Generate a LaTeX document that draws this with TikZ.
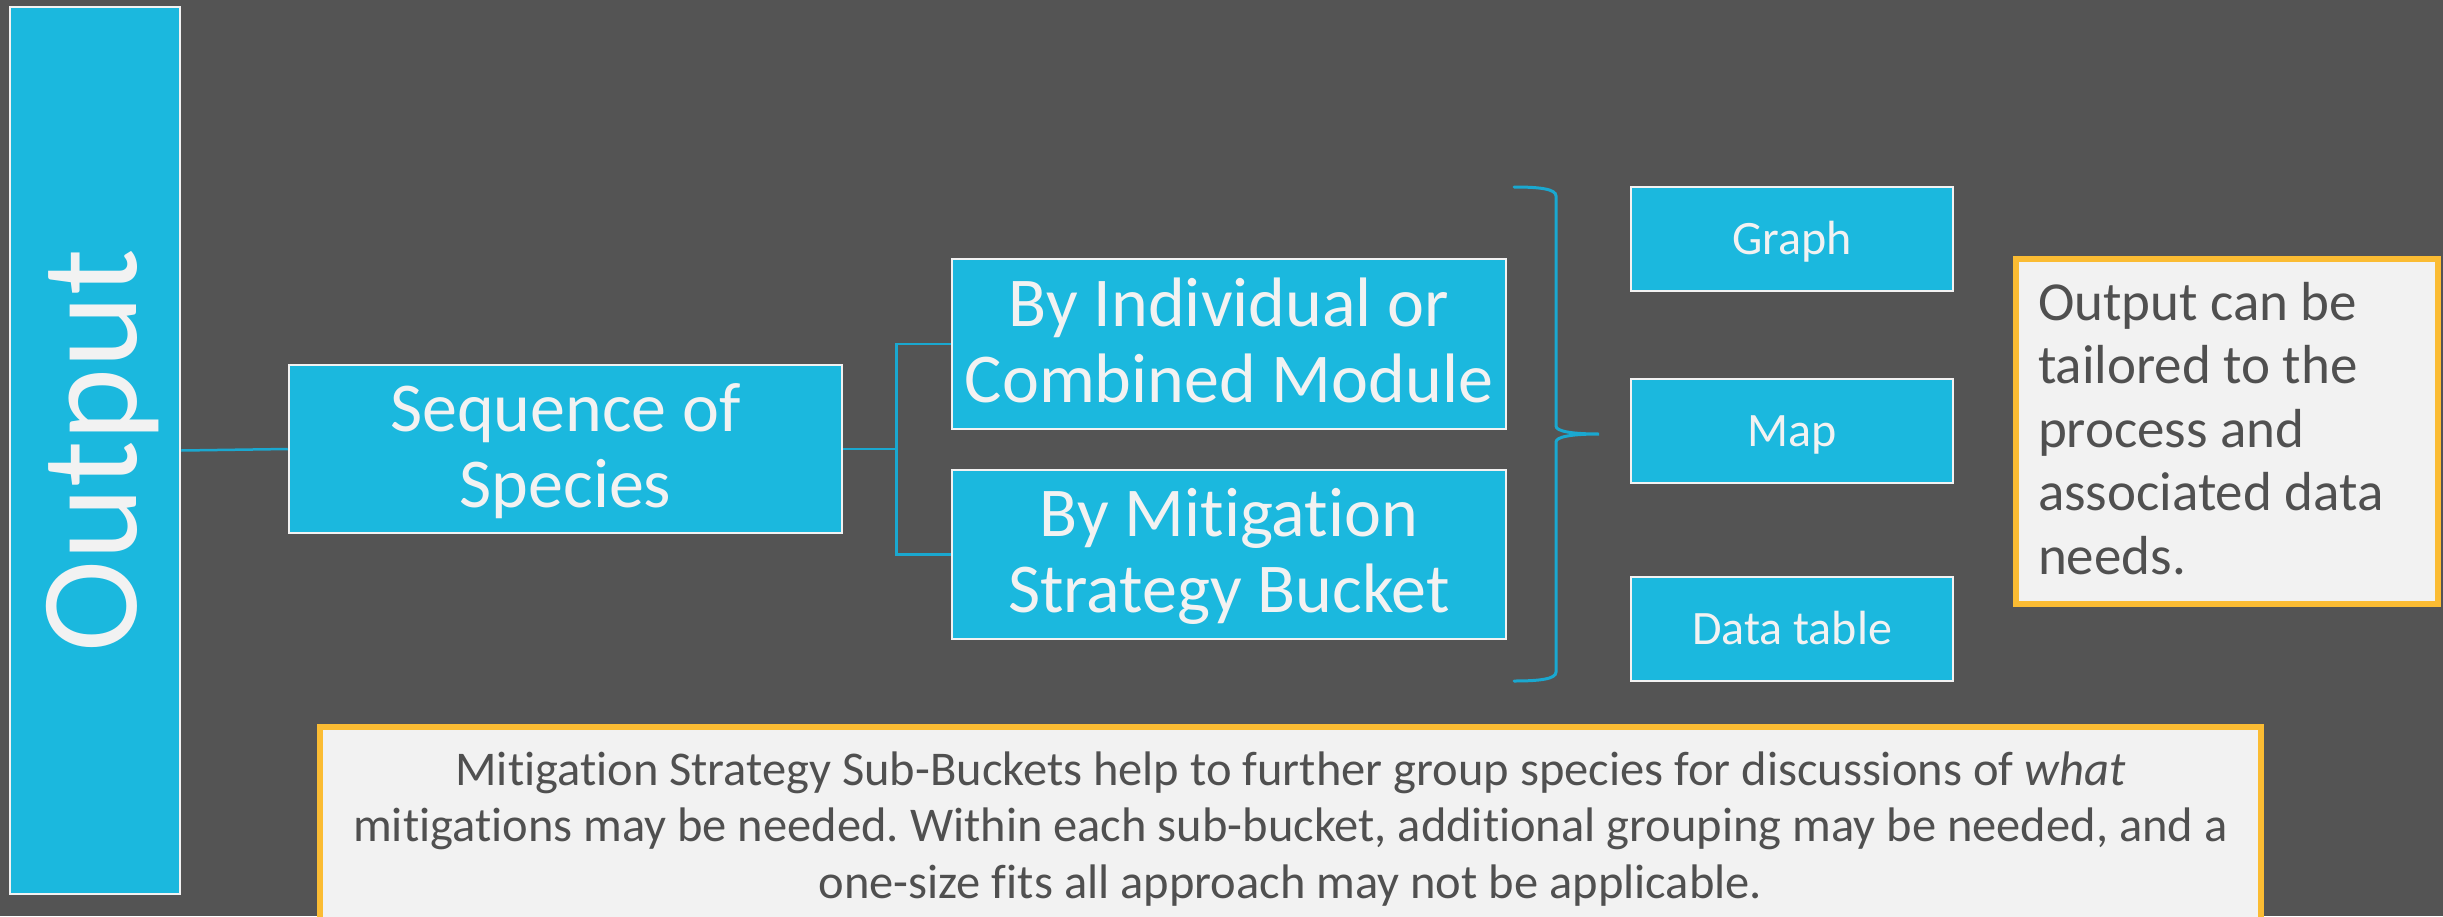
\documentclass[tikz,border=0pt]{standalone}
\usepackage{fontspec}
\setmainfont{Carlito}[Ligatures=NoCommon]
\frenchspacing
\definecolor{bg}{HTML}{545454}
\definecolor{cyanbox}{HTML}{1BB8DE}
\definecolor{lineblue}{HTML}{1AA8D0}
\definecolor{whiteish}{HTML}{F2F2F2}
\definecolor{orangeb}{HTML}{FBBC33}
\definecolor{darktext}{HTML}{505050}
\newcommand\bigstrut{\rule[-18pt]{0pt}{76pt}}
\newcommand\smallstrut{\rule[-12pt]{0pt}{55pt}}
\newcommand\notestrut{\rule[-16.25pt]{0pt}{63.5pt}}
\newcommand\botstrut{\rule[-14.5pt]{0pt}{56.5pt}}
\begin{document}
\begin{tikzpicture}[x=1pt,y=-1pt,
  bluebox/.style={draw=whiteish, fill=cyanbox, line width=2.5pt, text=whiteish, inner sep=0pt, align=center},
  bigtext/.style={font=\fontsize{70}{76}\selectfont},
  smalltext/.style={font=\fontsize{48}{55}\selectfont},
  notebox/.style={draw=orangeb, fill=whiteish, line width=6pt, text=darktext},
  conn/.style={draw=lineblue, line width=2.5pt},
  bracestyle/.style={draw=lineblue, line width=3pt, line cap=round}
]
\clip (0,0) rectangle (2443,916);
\fill[bg] (0,0) rectangle (2443,916);

% left vertical box
\node[bluebox, rotate=90, minimum width=887pt, minimum height=170pt,
      font=\fontsize{139}{140}\selectfont] (out) at (95,450.5) {\rule[-28pt]{0pt}{138pt}Output};

% sequence of species
\node[bluebox, bigtext, minimum width=553pt, minimum height=168pt] (seq) at (565.5,449)
  {\bigstrut Sequence of\\\bigstrut Species};

% two middle boxes
\node[bluebox, bigtext, minimum width=554pt, minimum height=170pt] (ind) at (1229,344)
  {\bigstrut By Individual or\\\bigstrut Combined Module};
\node[bluebox, bigtext, minimum width=554pt, minimum height=169pt] (mit) at (1229,554.5)
  {\bigstrut By Mitigation\\\bigstrut Strategy Bucket};

% right boxes
\node[bluebox, smalltext, minimum width=322pt, minimum height=104pt] (graph) at (1792,239) {\smallstrut Graph};
\node[bluebox, smalltext, minimum width=322pt, minimum height=104pt] (map) at (1792,431) {\smallstrut Map};
\node[bluebox, smalltext, minimum width=322pt, minimum height=104pt] (table) at (1792,629) {\smallstrut Data table};

% note box on the right
\node[notebox, minimum width=422pt, minimum height=345pt, text width=378pt, inner xsep=22pt,
      align=flush left, font=\fontsize{55}{63.5}\selectfont] (note) at (2227,431.5)
  {\notestrut Output can be\\\notestrut tailored to the\\\notestrut process and\\\notestrut associated data\\\notestrut needs.};

% bottom note box
\node[notebox, anchor=north, minimum width=1941pt, minimum height=201.5pt, inner sep=0pt,
      align=center, font=\fontsize{48.5}{56.5}\selectfont] (bottom) at (1290.5,724)
  {\botstrut Mitigation Strategy Sub-Buckets help to further group species for discussions of \textit{what}\\
   \botstrut mitigations may be needed. Within each sub-bucket, additional grouping may be needed, and a\\
   \botstrut one-size fits all approach may not be applicable.};

% connectors
\draw[conn] (out.south) -- (seq.west);
\coordinate (split) at (896.5,449);
\draw[conn] (seq.east) -- (split) |- (ind.west);
\draw[conn] (split) |- (mit.west);

% brace
\coordinate (btop) at (1514,187);
\coordinate (btip) at (1599,434);
\coordinate (bbot) at (1514,681);
\draw[bracestyle] (btop) .. controls (1540,187) and (1556,189) .. (1556,196)
  -- (1556,426) .. controls (1556,431) and (1570,434) .. (btip)
  .. controls (1570,434) and (1556,437) .. (1556,442)
  -- (1556,672) .. controls (1556,679) and (1540,681) .. (bbot);
\end{tikzpicture}
\end{document}
